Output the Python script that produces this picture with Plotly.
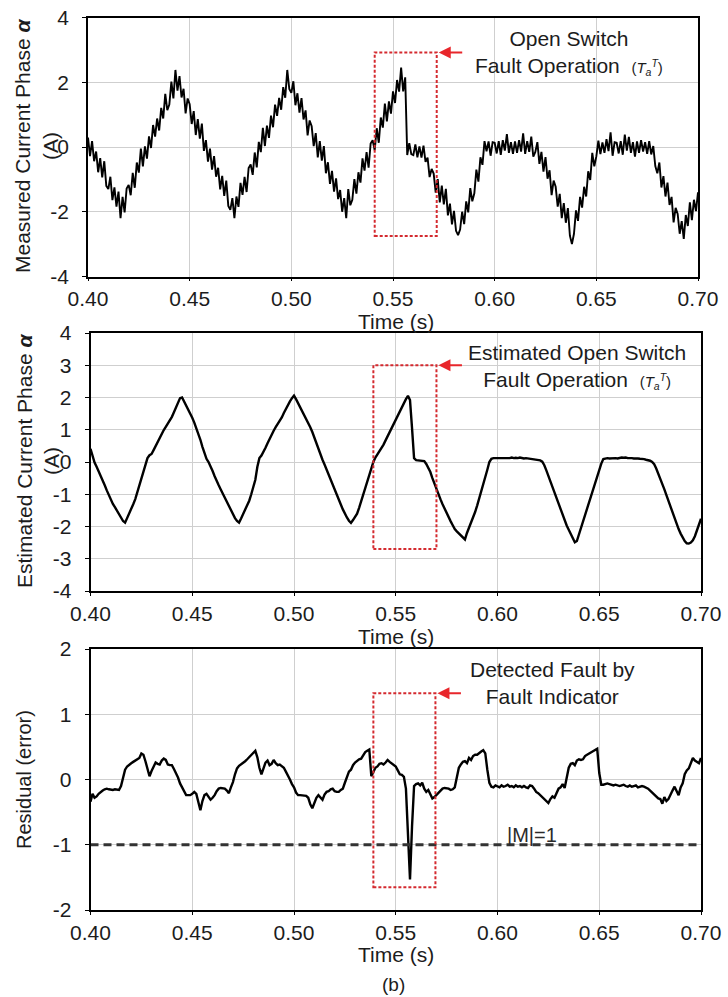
import numpy as np
import plotly.graph_objects as go

# ---------------------------------------------------------------- data
# sampling grid: 0.400 s ... 0.700 s, 1 ms step
time_s = np.round(np.linspace(0.400, 0.700, 301), 3)

# phase-a current, measured (A), one row = 10 ms
measured_current = [
    0.29, -0.28, 0.18, -0.44, -0.14, -0.78, -0.34, -0.94, -0.44, -1.20,
    -1.30, -0.92, -1.64, -1.25, -1.84, -1.38, -2.20, -1.54, -2.02, -1.28,
    -1.17, -1.49, -0.80, -1.26, -0.48, -0.79, -0.05, -0.60, 0.02, -0.36,
    0.33, -0.03, 0.68, 0.32, 0.88, 0.51, 1.21, 0.88, 1.64, 1.14,
    1.31, 2.02, 1.50, 2.38, 1.74, 2.19, 1.53, 1.80, 1.04, 1.50,
    1.32, 0.71, 1.11, 0.37, 0.86, 0.26, 0.72, -0.12, 0.21, -0.45,
    -0.05, -0.70, -0.28, -0.92, -0.64, -1.31, -0.89, -1.51, -1.04, -1.82,
    -1.94, -1.58, -2.20, -1.53, -1.85, -1.11, -1.48, -0.92, -1.39, -0.65,
    -0.54, -0.86, -0.17, -0.63, 0.16, -0.16, 0.59, 0.03, 0.66, 0.28,
    0.97, 0.61, 1.31, 0.96, 1.52, 1.15, 1.85, 1.52, 2.38, 1.79,
    1.67, 2.03, 1.29, 1.66, 1.06, 1.51, 0.85, 1.13, 0.36, 0.82,
    0.64, 0.03, 0.43, -0.32, 0.18, -0.42, 0.03, -0.81, -0.47, -1.14,
    -0.74, -1.38, -0.97, -1.61, -1.33, -2.00, -1.58, -2.20, -1.30, -1.80,
    -1.63, -0.99, -1.44, -0.78, -1.10, -0.35, -0.73, -0.16, -0.64, 0.11,
    0.21, -0.10, 0.58, 0.13, 0.91, 0.60, 1.34, 0.79, 1.41, 1.03,
    1.72, 1.36, 2.07, 1.71, 2.45, 1.72, 2.15, -0.25, 0.12, -0.22,
    -0.25, 0.08, -0.32, 0.02, -0.33, 0.04, -0.46, -0.33, -0.93, -0.68,
    -0.82, -1.41, -0.99, -1.71, -1.19, -1.77, -1.29, -2.11, -1.75, -2.39,
    -1.97, -2.59, -2.72, -2.55, -2.00, -2.38, -1.68, -2.02, -1.27, -1.68,
    -1.43, -0.70, -1.07, -0.32, -0.55, 0.18, -0.13, 0.17, -0.27, 0.15,
    0.13, -0.20, 0.18, -0.24, 0.21, -0.11, 0.40, -0.18, 0.15, -0.21,
    0.17, -0.18, 0.21, -0.14, 0.42, -0.21, 0.18, -0.15, 0.32, -0.30,
    -0.15, 0.15, -0.52, -0.15, -0.76, -0.31, -0.98, -0.72, -1.49, -1.04,
    -1.23, -1.84, -1.45, -2.20, -1.73, -2.34, -1.89, -2.74, -3.00, -2.68,
    -1.96, -2.28, -1.54, -1.87, -1.23, -1.53, -0.75, -1.02, -0.18, -0.60,
    -0.29, 0.20, -0.22, 0.14, -0.18, 0.24, -0.13, 0.45, -0.27, 0.15,
    0.13, -0.20, 0.18, -0.24, 0.38, -0.11, 0.31, -0.18, 0.15, -0.30,
    0.17, -0.18, 0.21, -0.14, 0.15, -0.21, 0.18, -0.23, 0.03, -0.59,
    -0.81, -0.48, -1.25, -0.90, -1.53, -1.10, -1.79, -1.54, -2.33, -1.88,
    -2.07, -2.68, -2.29, -2.84, -2.10, -2.44, -1.71, -2.26, -1.63, -1.98,
    -1.40,
]

# phase-a current, estimated (A)
estimated_current = [
    0.41, 0.20, -0.02, -0.15, -0.28, -0.42, -0.55, -0.72, -0.88, -1.03,
    -1.19, -1.30, -1.40, -1.50, -1.61, -1.72, -1.83, -1.88, -1.75, -1.60,
    -1.45, -1.31, -1.15, -0.95, -0.73, -0.52, -0.35, -0.12, 0.12, 0.21,
    0.25, 0.37, 0.50, 0.64, 0.77, 0.88, 0.99, 1.09, 1.19, 1.30,
    1.40, 1.54, 1.68, 1.83, 1.98, 2.00, 1.88, 1.75, 1.65, 1.52,
    1.37, 1.22, 1.06, 0.90, 0.69, 0.47, 0.25, 0.10, 0.00, -0.12,
    -0.28, -0.44, -0.60, -0.72, -0.85, -0.98, -1.11, -1.25, -1.40, -1.53,
    -1.65, -1.74, -1.83, -1.88, -1.75, -1.62, -1.50, -1.37, -1.20, -1.00,
    -0.80, -0.55, -0.15, 0.12, 0.20, 0.30, 0.44, 0.58, 0.73, 0.85,
    0.97, 1.08, 1.18, 1.25, 1.38, 1.52, 1.65, 1.77, 1.88, 1.98,
    2.06, 1.95, 1.83, 1.72, 1.60, 1.47, 1.34, 1.21, 1.08, 0.93,
    0.75, 0.57, 0.39, 0.20, 0.07, -0.08, -0.24, -0.40, -0.57, -0.74,
    -0.88, -1.03, -1.18, -1.32, -1.47, -1.61, -1.72, -1.82, -1.89, -1.80,
    -1.70, -1.60, -1.42, -1.21, -1.00, -0.81, -0.60, -0.39, -0.18, 0.00,
    0.14, 0.23, 0.33, 0.42, 0.54, 0.67, 0.80, 0.93, 1.07, 1.21,
    1.34, 1.47, 1.60, 1.72, 1.83, 1.95, 2.05, 1.92, 1.05, 0.12,
    0.06, 0.05, 0.05, 0.04, 0.03, -0.06, -0.17, -0.31, -0.50, -0.68,
    -0.86, -1.03, -1.16, -1.31, -1.45, -1.60, -1.72, -1.84, -1.96, -2.08,
    -2.15, -2.22, -2.29, -2.36, -2.40, -2.20, -2.05, -1.90, -1.73, -1.55,
    -1.35, -1.14, -0.93, -0.72, -0.48, -0.24, 0.00, 0.10, 0.12, 0.12,
    0.11, 0.12, 0.13, 0.12, 0.11, 0.13, 0.12, 0.14, 0.12, 0.13,
    0.12, 0.14, 0.12, 0.11, 0.12, 0.11, 0.12, 0.10, 0.10, 0.09,
    0.08, 0.05, 0.01, -0.10, -0.26, -0.43, -0.61, -0.79, -0.98, -1.16,
    -1.34, -1.50, -1.66, -1.82, -1.97, -2.10, -2.23, -2.36, -2.49, -2.45,
    -2.25, -2.05, -1.82, -1.63, -1.45, -1.26, -1.05, -0.84, -0.63, -0.42,
    -0.21, -0.05, 0.09, 0.11, 0.12, 0.11, 0.12, 0.13, 0.12, 0.11,
    0.13, 0.14, 0.13, 0.14, 0.12, 0.13, 0.12, 0.11, 0.12, 0.11,
    0.10, 0.10, 0.09, 0.07, 0.06, 0.04, 0.00, -0.07, -0.20, -0.35,
    -0.51, -0.68, -0.85, -1.03, -1.21, -1.39, -1.57, -1.75, -1.92, -2.08,
    -2.22, -2.36, -2.45, -2.52, -2.53, -2.50, -2.43, -2.30, -2.12, -1.95,
    -1.76,
]

# residual (error) of the fault indicator
residual = [
    -0.34, -0.22, -0.28, -0.26, -0.22, -0.19, -0.17, -0.15, -0.14, -0.15,
    -0.16, -0.16, -0.15, -0.16, -0.16, -0.10, 0.03, 0.15, 0.20, 0.23,
    0.25, 0.27, 0.29, 0.30, 0.33, 0.40, 0.38, 0.28, 0.15, 0.05,
    0.13, 0.20, 0.26, 0.24, 0.23, 0.29, 0.32, 0.30, 0.23, 0.22,
    0.22, 0.16, 0.10, 0.03, -0.06, -0.12, -0.20, -0.24, -0.24, -0.24,
    -0.22, -0.19, -0.22, -0.35, -0.47, -0.33, -0.24, -0.22, -0.27, -0.31,
    -0.28, -0.24, -0.18, -0.14, -0.13, -0.13, -0.14, -0.17, -0.21, -0.12,
    -0.04, 0.08, 0.17, 0.21, 0.23, 0.26, 0.28, 0.31, 0.34, 0.37,
    0.40, 0.44, 0.34, 0.18, 0.08, 0.18, 0.26, 0.29, 0.22, 0.24,
    0.30, 0.25, 0.22, 0.23, 0.20, 0.18, 0.12, 0.07, 0.00, -0.07,
    -0.12, -0.20, -0.24, -0.24, -0.24, -0.24, -0.25, -0.28, -0.38, -0.44,
    -0.35, -0.28, -0.24, -0.28, -0.31, -0.23, -0.19, -0.18, -0.15, -0.14,
    -0.18, -0.19, -0.19, -0.16, -0.14, -0.05, 0.04, 0.12, 0.15, 0.22,
    0.26, 0.29, 0.31, 0.32, 0.38, 0.42, 0.44, 0.46, 0.05, 0.12,
    0.18, 0.20, 0.24, 0.25, 0.23, 0.26, 0.30, 0.27, 0.25, 0.22,
    0.20, 0.14, 0.08, 0.07, 0.04, -0.14, -0.75, -1.53, -0.72, -0.10,
    -0.07, -0.06, -0.09, -0.05, -0.14, -0.19, -0.16, -0.22, -0.29, -0.27,
    -0.24, -0.21, -0.17, -0.14, -0.13, -0.13, -0.14, -0.16, -0.15, -0.12,
    0.02, 0.18, 0.23, 0.27, 0.28, 0.25, 0.33, 0.30, 0.36, 0.38,
    0.38, 0.41, 0.43, 0.45, 0.40, 0.15, -0.05, -0.11, -0.12, -0.09,
    -0.10, -0.12, -0.09, -0.11, -0.10, -0.08, -0.11, -0.10, -0.12, -0.09,
    -0.11, -0.10, -0.12, -0.10, -0.12, -0.13, -0.09, -0.10, -0.14, -0.19,
    -0.21, -0.24, -0.26, -0.29, -0.33, -0.36, -0.30, -0.26, -0.28, -0.21,
    -0.14, -0.12, -0.07, -0.13, 0.05, 0.18, 0.24, 0.25, 0.22, 0.29,
    0.31, 0.30, 0.31, 0.36, 0.38, 0.40, 0.42, 0.44, 0.46, 0.47,
    0.10, -0.08, -0.08, -0.07, -0.06, -0.07, -0.08, -0.09, -0.08, -0.09,
    -0.10, -0.09, -0.08, -0.10, -0.11, -0.09, -0.11, -0.10, -0.09, -0.12,
    -0.11, -0.10, -0.11, -0.12, -0.14, -0.17, -0.20, -0.22, -0.25, -0.29,
    -0.30, -0.37, -0.27, -0.33, -0.30, -0.22, -0.17, -0.11, -0.18, -0.24,
    -0.12, -0.06, 0.08, 0.14, 0.17, 0.25, 0.33, 0.29, 0.27, 0.25,
    0.33,
]

# fault indicator threshold |M| = 1
threshold = -1.0

# fault windows (time span and level span of each marked region)
fault_box_measured = dict(t0=0.541, t1=0.5715, v0=-2.75, v1=2.92)
fault_box_estimated = dict(t0=0.539, t1=0.570, v0=-2.70, v1=3.0)
fault_box_residual = dict(t0=0.539, t1=0.5695, v0=-1.65, v1=1.32)

# tick labels
x_tick_vals = [0.40, 0.45, 0.50, 0.55, 0.60, 0.65, 0.70]
x_tick_text = ["0.40", "0.45", "0.50", "0.55", "0.60", "0.65", "0.70"]
y1_tick_vals = [-4, -2, 0, 2, 4]
y1_tick_text = ["-4", "-2", "0", "2", "4"]
y2_tick_vals = [-4, -3, -2, -1, 0, 1, 2, 3, 4]
y2_tick_text = ["-4", "-3", "-2", "-1", "0", "1", "2", "3", "4"]
y3_tick_vals = [-2, -1, 0, 1, 2]
y3_tick_text = ["-2", "-1", "0", "1", "2"]

# ---------------------------------------------------------------- layout
W, H = 728, 997
FONT = "Liberation Sans, Arial, Helvetica, sans-serif"
TXT = "#1c1c1c"
BOX_RED = "#d42a2f"
ARROW_RED = "#e8262b"
FS = 21


def fx(px):
    return px / W


def fy(py):
    return 1 - py / H


# plot areas in page pixels: (left, right), (top, bottom)
areas = [((88, 698), (17.5, 276.5)),
         ((90.5, 701), (333, 591)),
         ((90.5, 701), (649, 910))]

fig = go.Figure()

line_traces = [
    (measured_current, 1.9, "x", "y"),
    (estimated_current, 2.4, "x2", "y2"),
    (residual, 2.4, "x3", "y3"),
]
for ys, w, xa, ya in line_traces:
    fig.add_trace(go.Scatter(x=time_s, y=ys, mode="lines",
                             line=dict(color="black", width=w),
                             xaxis=xa, yaxis=ya, showlegend=False,
                             hoverinfo="skip"))

# threshold line
fig.add_trace(go.Scatter(x=[x_tick_vals[0], x_tick_vals[-1]],
                         y=[threshold, threshold], mode="lines",
                         line=dict(color="#333333", width=3, dash="8px,5px"),
                         xaxis="x3", yaxis="y3", showlegend=False,
                         hoverinfo="skip"))

axis_common = dict(showline=True, linecolor="black", linewidth=1.5,
                   mirror=True, showgrid=True, gridcolor="#cfcfcf",
                   gridwidth=1, zeroline=False, ticks="outside",
                   tickcolor="black", tickwidth=1, automargin=False,
                   tickfont=dict(family=FONT, size=FS, color=TXT))

y_specs = [(y1_tick_vals, y1_tick_text, [-4, 4]),
           (y2_tick_vals, y2_tick_text, [-4, 4]),
           (y3_tick_vals, y3_tick_text, [-2, 2])]

layout_axes = {}
for i, ((xl, xr), (yt, yb)) in enumerate(areas):
    sfx = "" if i == 0 else str(i + 1)
    tv, tt, rng = y_specs[i]
    layout_axes["xaxis" + sfx] = dict(
        axis_common, domain=[fx(xl), fx(xr)], range=[0.40, 0.70],
        tickvals=x_tick_vals, ticktext=x_tick_text, ticklen=3,
        anchor="y" + sfx, ticklabelstandoff=0)
    layout_axes["yaxis" + sfx] = dict(
        axis_common, domain=[fy(yb), fy(yt)], range=rng,
        tickvals=tv, ticktext=tt, ticklen=4,
        anchor="x" + sfx, ticklabelstandoff=9)

fig.update_layout(**layout_axes)

# fault windows
shapes = []
for box, xr, yr in [(fault_box_measured, "x", "y"),
                    (fault_box_estimated, "x2", "y2"),
                    (fault_box_residual, "x3", "y3")]:
    shapes.append(dict(type="rect", xref=xr, yref=yr,
                       x0=box["t0"], x1=box["t1"], y0=box["v0"], y1=box["v1"],
                       line=dict(color=BOX_RED, width=2, dash="3px,2px"),
                       fillcolor="rgba(0,0,0,0)", layer="above"))

annotations = []
# arrows pointing at the fault windows
for box, xr, yr in [(fault_box_measured, "x", "y"),
                    (fault_box_estimated, "x2", "y2"),
                    (fault_box_residual, "x3", "y3")]:
    annotations.append(dict(x=box["t1"], y=box["v1"], xref=xr, yref=yr,
                            text="", showarrow=True, ax=27, ay=0,
                            arrowhead=2, arrowsize=1.2, arrowwidth=2,
                            arrowcolor=ARROW_RED, standoff=2))

tag = ("\u00a0\u00a0<span style='font-size:15px'>(<i>T<sub>a</sub>"
       "<sup>T</sup></i>)</span>")
notes = [
    ("Open Switch<br>Fault Operation" + tag, 569, 53),
    ("Estimated Open Switch<br>Fault Operation" + tag, 577, 366),
    ("Detected Fault by<br>Fault Indicator", 552, 683),
]
for text, px, py in notes:
    annotations.append(dict(x=fx(px), y=fy(py), xref="paper", yref="paper",
                            text=text, showarrow=False, align="center",
                            xanchor="center", yanchor="middle",
                            font=dict(family=FONT, size=FS, color=TXT)))

# threshold label
annotations.append(dict(x=0.617, y=threshold, xref="x3", yref="y3",
                        text="|M|=1", showarrow=False, xanchor="center",
                        yanchor="bottom", yshift=-3,
                        font=dict(family=FONT, size=20, color="#2a2a2a")))

# x-axis titles
for py in (321.5, 636, 954):
    annotations.append(dict(x=fx(396), y=fy(py), xref="paper", yref="paper",
                            text="Time (s)", showarrow=False,
                            xanchor="center", yanchor="middle",
                            font=dict(family=FONT, size=FS, color=TXT)))

# y-axis titles (rotated), one annotation per text line
y_titles = [
    ("Measured Current Phase <b><i>α</i></b>", 23, 146, 21),
    ("(A)", 51, 146, 21),
    ("Estimated Current Phase <b><i>α</i></b>", 24, 461, 21),
    ("(A)", 51, 461, 21),
    ("Residual (error)", 24, 780, 20),
]
for text, px, py, size in y_titles:
    annotations.append(dict(x=fx(px), y=fy(py), xref="paper", yref="paper",
                            text=text, showarrow=False, textangle=-90,
                            xanchor="center", yanchor="middle",
                            font=dict(family=FONT, size=size, color=TXT)))

annotations.append(dict(x=fx(393), y=fy(984), xref="paper", yref="paper",
                        text="(b)", showarrow=False, xanchor="center",
                        yanchor="middle",
                        font=dict(family=FONT, size=19, color=TXT)))

fig.update_layout(width=W, height=H, margin=dict(l=0, r=0, t=0, b=0),
                  paper_bgcolor="white", plot_bgcolor="white",
                  shapes=shapes, annotations=annotations,
                  font=dict(family=FONT, color=TXT))

fig.write_html("out.html")
